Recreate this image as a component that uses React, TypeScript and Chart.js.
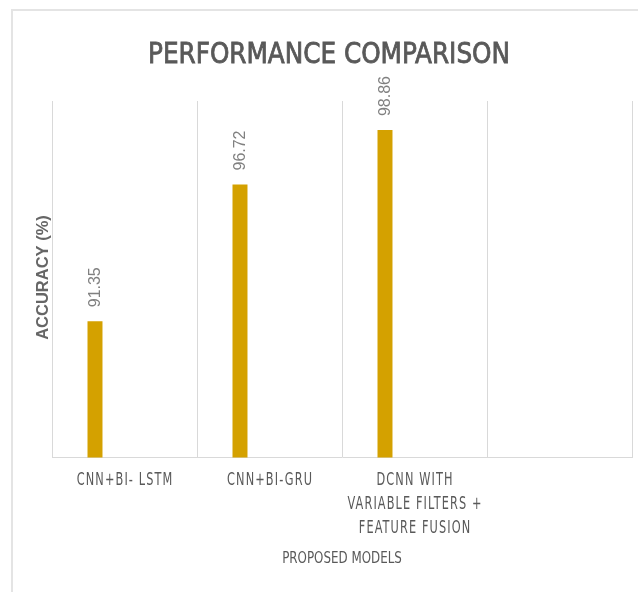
import React, { useEffect, useRef } from "react";
import { Chart, registerables } from "chart.js";

Chart.register(...registerables);

const categories: string[][] = [
  ["CNN+BI- LSTM"],
  ["CNN+BI-GRU"],
  ["DCNN WITH", "VARIABLE FILTERS +", "FEATURE FUSION"],
  [""],
];
const accuracy: (number | null)[] = [91.35, 96.72, 98.86, null];
const emptySeries: (number | null)[] = [null, null, null, null];
const chartTitle = "PERFORMANCE COMPARISON";
const yTitle = "ACCURACY (%)";
const xTitle = "PROPOSED MODELS";

const NARROW = "'DejaVu Sans Condensed', 'Liberation Sans Narrow', 'Liberation Sans', sans-serif";
const SANS = "'Liberation Sans', Arial, sans-serif";

function drawScaled(
  ctx: CanvasRenderingContext2D,
  text: string,
  cx: number,
  y: number,
  sx: number,
  spacing: number,
  strokeW = 0
) {
  ctx.save();
  (ctx as any).letterSpacing = `${spacing}px`;
  ctx.translate(cx, y);
  ctx.scale(sx, 1);
  ctx.textAlign = "left";
  const w = ctx.measureText(text).width - spacing;
  ctx.fillText(text, -w / 2, 0);
  if (strokeW > 0) {
    ctx.strokeStyle = ctx.fillStyle as string;
    ctx.lineWidth = strokeW;
    ctx.strokeText(text, -w / 2, 0);
  }
  ctx.restore();
}

const decorPlugin = {
  id: "decor",
  afterDraw(chart: any) {
    const ctx = chart.ctx as CanvasRenderingContext2D;
    const area = chart.chartArea;
    const xs = chart.scales.x;
    ctx.save();
    // outer frame
    ctx.strokeStyle = "#e4e4e4";
    ctx.lineWidth = 2;
    ctx.beginPath();
    ctx.moveTo(12, 700);
    ctx.lineTo(12, 10);
    ctx.lineTo(700, 10);
    ctx.stroke();

    ctx.textBaseline = "alphabetic";
    // title
    ctx.fillStyle = "#595959";
    ctx.font = `29px ${NARROW}`;
    drawScaled(ctx, chartTitle, 329, 63, 0.947, 0, 0.8);

    // category labels
    ctx.font = `17px ${NARROW}`;
    ctx.fillStyle = "#595959";
    categories.forEach((lines, i) => {
      const cx = xs.getPixelForValue(i);
      lines.forEach((ln, j) => {
        drawScaled(ctx, ln, cx, 485 + j * 24, 0.74, 1.5);
      });
    });

    // x title
    ctx.font = `15px ${NARROW}`;
    drawScaled(ctx, xTitle, (area.left + area.right) / 2, 563, 0.88, 0);

    // y title
    ctx.save();
    ctx.translate(48, 277.5);
    ctx.rotate(-Math.PI / 2);
    ctx.font = `bold 16.5px ${SANS}`;
    ctx.fillStyle = "#666666";
    ctx.textAlign = "center";
    ctx.fillText(yTitle, 0, 0);
    ctx.restore();

    // data labels
    const meta = chart.getDatasetMeta(0);
    ctx.font = `16px ${SANS}`;
    ctx.fillStyle = "#808080";
    meta.data.forEach((bar: any, i: number) => {
      const v = accuracy[i];
      if (v == null) return;
      ctx.save();
      ctx.translate(bar.x + 5, bar.y - 14);
      ctx.rotate(-Math.PI / 2);
      ctx.textAlign = "left";
      ctx.fillText(v.toFixed(2), 0, 0);
      ctx.restore();
    });
    ctx.restore();
  },
};

export default function App() {
  const ref = useRef<HTMLCanvasElement | null>(null);
  useEffect(() => {
    if (!ref.current) return;
    const chart = new Chart(ref.current, {
      type: "bar",
      data: {
        labels: categories.map((c) => c.join(" ")),
        datasets: [
          {
            data: accuracy,
            backgroundColor: "#D4A100",
            categoryPercentage: 0.814,
            barPercentage: 0.254,
          },
          {
            data: emptySeries,
            backgroundColor: "#A5A5A5",
            categoryPercentage: 0.814,
            barPercentage: 0.254,
          },
        ],
      },
      options: {
        animation: false,
        responsive: false,
        maintainAspectRatio: false,
        layout: { padding: { left: 52, right: 6, top: 101, bottom: 134.5 } },
        plugins: {
          legend: { display: false },
          title: { display: false },
          tooltip: { enabled: false },
        },
        scales: {
          x: {
            offset: true,
            grid: { display: true, offset: true, color: "#d9d9d9", lineWidth: 1, drawTicks: false },
            border: { display: true, color: "#d9d9d9", width: 1 },
            ticks: { display: false },
          },
          y: {
            display: false,
            min: 86,
            max: 100,
          },
        },
      },
      plugins: [decorPlugin],
    });
    return () => chart.destroy();
  }, []);
  return (
    <div style={{ position: "absolute", left: 0, top: 0, width: 638, height: 592, background: "#fff" }}>
      <canvas ref={ref} width={638} height={592} style={{ width: 638, height: 592, display: "block" }} />
    </div>
  );
}
